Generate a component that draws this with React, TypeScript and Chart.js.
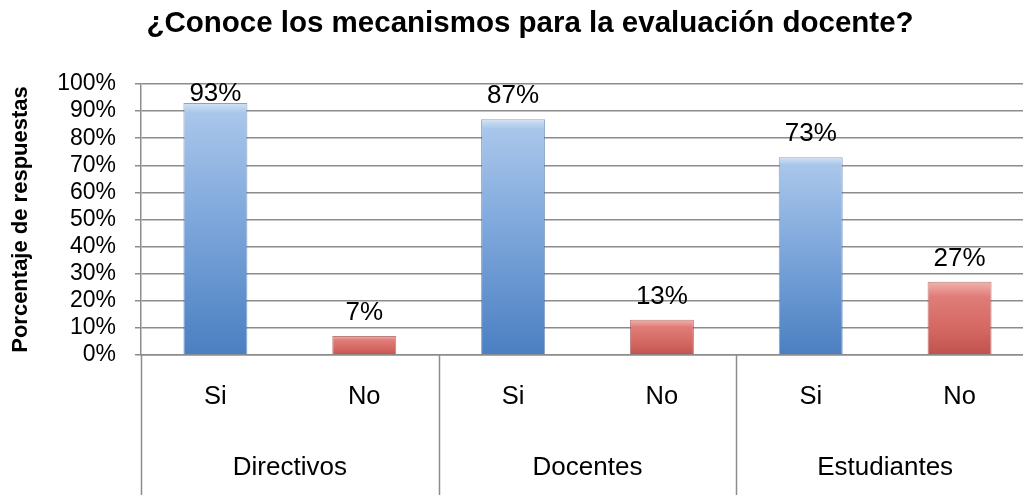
import React, { useEffect, useRef } from "react";
import { Chart, registerables } from "chart.js";

Chart.register(...registerables);

const titleText = "¿Conoce los mecanismos para la evaluación docente?";
const yAxisTitle = "Porcentaje de respuestas";
const categories = ["Si", "No", "Si", "No", "Si", "No"];
const groups = ["Directivos", "Docentes", "Estudiantes"];
const values = [93, 7, 87, 13, 73, 27];
const yMin = 0;
const yMax = 100;
const yStep = 10;

const FONT = "'Liberation Sans', Arial, Helvetica, sans-serif";
const GRID = "#8c8c8c";
const CANVAS_W = 1060;
const CANVAS_H = 495;

function barGradient(ctx: any, isYes: boolean) {
  const chart = ctx.chart;
  const y = chart.scales?.y;
  const area = chart.chartArea;
  if (!y || !area) return isYes ? "#8db3e2" : "#d46a66";
  const v = ctx.raw as number;
  const top = y.getPixelForValue(v);
  const bottom = y.getPixelForValue(0);
  const g = chart.ctx.createLinearGradient(0, top, 0, bottom + 1);
  if (isYes) {
    g.addColorStop(0, "#d2e2f5");
    g.addColorStop(0.04, "#a9c6ea");
    g.addColorStop(0.45, "#7fa8dc");
    g.addColorStop(1, "#4a7fc1");
  } else {
    g.addColorStop(0, "#f3b2ae");
    g.addColorStop(0.2, "#e07d78");
    g.addColorStop(0.7, "#d2645f");
    g.addColorStop(1, "#bf514d");
  }
  return g;
}

const titlePlugin = {
  id: "customTitle",
  afterDraw(chart: any) {
    const c = chart.ctx;
    c.save();
    c.font = `bold 29.5px ${FONT}`;
    c.fillStyle = "#000";
    c.textAlign = "center";
    c.textBaseline = "alphabetic";
    c.fillText(titleText, chart.width / 2, 32);
    c.restore();
  },
};

const dataLabelPlugin = {
  id: "dataLabels",
  afterDatasetsDraw(chart: any) {
    const c = chart.ctx;
    const meta = chart.getDatasetMeta(0);
    const area = chart.chartArea;
    c.save();
    c.font = `26px ${FONT}`;
    c.fillStyle = "#000";
    c.textAlign = "center";
    c.textBaseline = "alphabetic";
    meta.data.forEach((bar: any, i: number) => {
      const yPos = Math.max(bar.y - 16, area.top + 17);
      c.fillText(values[i] + "%", bar.x, yPos);
    });
    c.restore();
  },
};

const separatorPlugin = {
  id: "separators",
  afterDraw(chart: any) {
    const c = chart.ctx;
    const x2 = chart.scales.x2;
    const area = chart.chartArea;
    const w = (x2.right - x2.left) / groups.length;
    c.save();
    c.strokeStyle = GRID;
    c.lineWidth = 1.5;
    for (let k = 0; k <= groups.length; k++) {
      const px = Math.round(x2.left + k * w) + 0.5;
      c.beginPath();
      c.moveTo(px, area.bottom);
      c.lineTo(px, chart.height);
      c.stroke();
    }
    c.restore();
  },
};

export default function App() {
  const ref = useRef<HTMLCanvasElement>(null);

  useEffect(() => {
    if (!ref.current) return;
    Chart.defaults.font.family = FONT;
    Chart.defaults.color = "#000";
    const chart = new Chart(ref.current, {
      type: "bar",
      data: {
        labels: categories,
        datasets: [
          {
            data: values,
            backgroundColor: (ctx: any) => barGradient(ctx, ctx.dataIndex % 2 === 0),
            borderColor: categories.map((c) =>
              c === "Si" ? "rgba(60,100,165,0.6)" : "rgba(150,60,56,0.65)"
            ),
            borderWidth: 1,
            barPercentage: 0.43,
            categoryPercentage: 1,
          },
        ],
      },
      options: {
        animation: false,
        responsive: false,
        devicePixelRatio: 1,
        layout: { padding: { top: 84, right: CANVAS_W - 1034, left: 0, bottom: 0 } },
        plugins: {
          legend: { display: false },
          tooltip: { enabled: false },
          title: { display: false },
        },
        scales: {
          y: {
            min: yMin,
            max: yMax,
            ticks: {
              stepSize: yStep,
              autoSkip: false,
              callback: (v: any) => v + "%",
              font: { size: 23 },
              color: "#000",
              padding: 19,
            },
            grid: {
              color: GRID,
              lineWidth: 1.5,
              drawTicks: true,
              tickLength: 6,
              tickColor: GRID,
            },
            border: { display: true, color: GRID, width: 1.5 },
            title: {
              display: true,
              text: yAxisTitle,
              font: { size: 22, weight: "bold" },
              color: "#000",
              padding: { top: 8, bottom: 0 },
            },
            afterFit: (scale: any) => {
              scale.width = 141;
            },
          },
          x: {
            type: "category",
            offset: true,
            grid: { display: false, drawTicks: false },
            border: { display: true, color: GRID, width: 1.5 },
            ticks: { font: { size: 25.5 }, color: "#000", padding: 27, maxRotation: 0, autoSkip: false },
            weight: 0,
            afterFit: (scale: any) => {
              scale.height = 75;
            },
          },
          x2: {
            type: "category",
            labels: groups,
            position: "bottom",
            offset: true,
            grid: { display: false, drawTicks: false },
            border: { display: false },
            ticks: { font: { size: 26 }, color: "#000", padding: 22, maxRotation: 0, autoSkip: false },
            weight: 1,
            afterFit: (scale: any) => {
              scale.height = 65;
            },
          },
        },
      } as any,
      plugins: [titlePlugin, dataLabelPlugin, separatorPlugin],
    });
    return () => chart.destroy();
  }, []);

  return (
    <div
      style={{
        position: "absolute",
        left: 0,
        top: 0,
        width: 1023,
        height: 495,
        overflow: "hidden",
        background: "#fff",
      }}
    >
      <canvas
        ref={ref}
        width={CANVAS_W}
        height={CANVAS_H}
        style={{ display: "block", width: CANVAS_W, height: CANVAS_H }}
      />
    </div>
  );
}
